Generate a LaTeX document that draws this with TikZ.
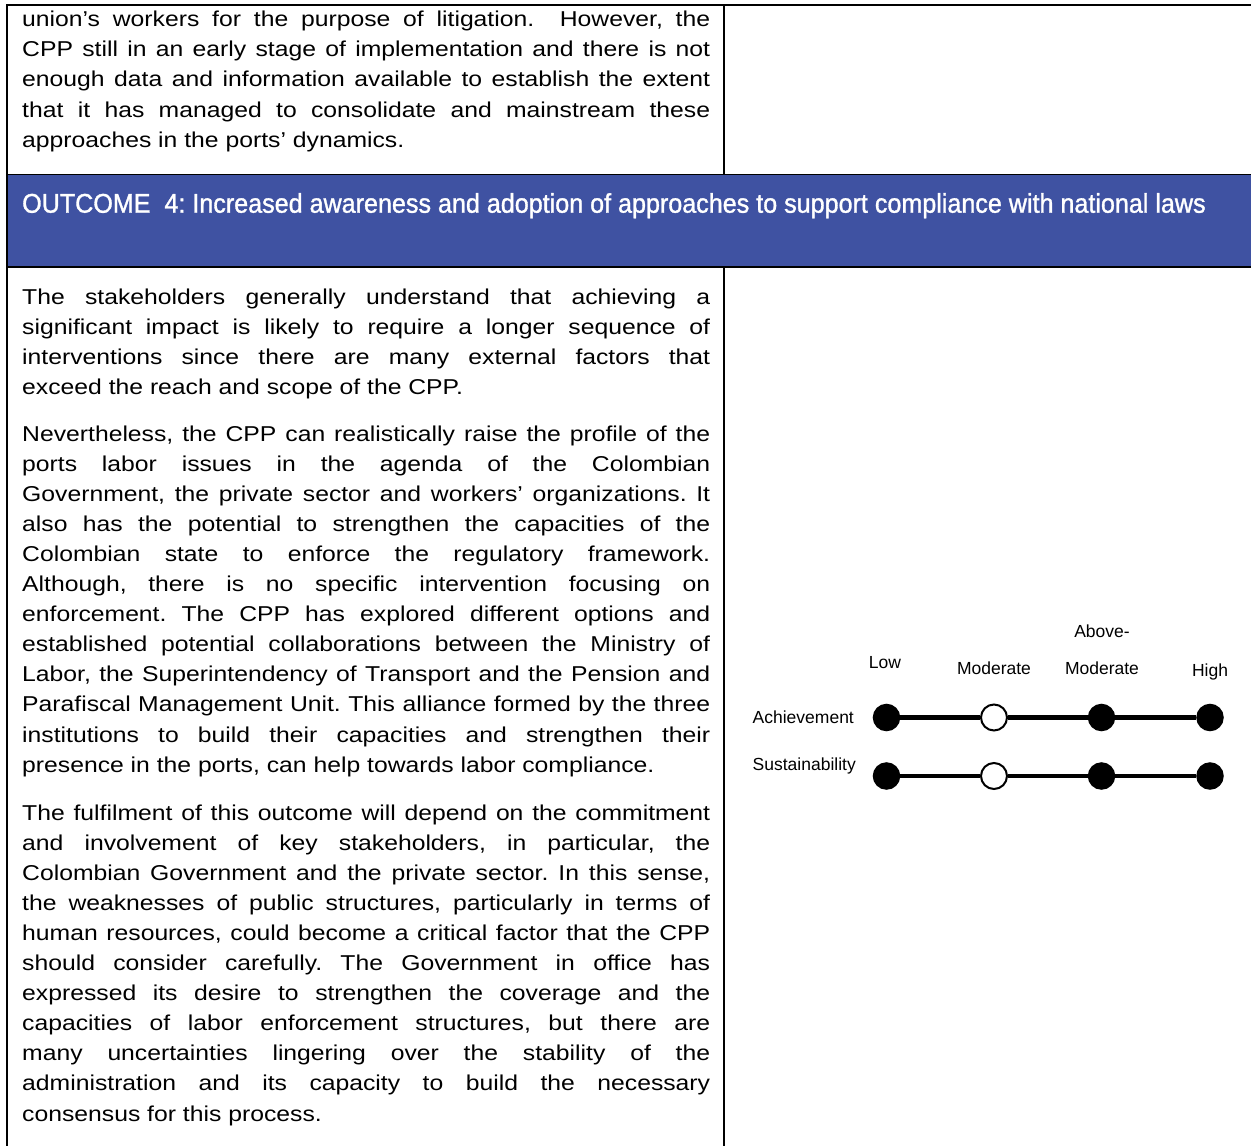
\documentclass[tikz,border=0pt]{standalone}
\usepackage{fontspec}
\setmainfont{Liberation Sans}
\newfontfamily\bodyfont[FakeStretch=1.15]{Liberation Sans}
\newfontfamily\headfont[FakeStretch=0.93,FakeBold=1.2]{Liberation Sans}
\usepackage{tikz}
\usetikzlibrary{positioning}
\definecolor{outcomeblue}{RGB}{63,82,162}
\tolerance=10000
\hyphenpenalty=10000
\frenchspacing
\tikzstyle{rule}=[line width=1.5pt]
\tikzstyle{bodytext}=[anchor=base west,inner sep=0pt,text width=688pt,align=justify,
  font=\bodyfont\fontsize{21.5}{30.1}\selectfont]
\tikzstyle{scalelabel}=[anchor=base,inner sep=0pt,font=\fontsize{17.5}{20}\selectfont]
\tikzstyle{dot}=[draw,fill=black,circle,minimum size=26pt,inner sep=0pt,line width=1.5pt]
\tikzstyle{opendot}=[dot,fill=white,line width=2pt]

\begin{document}
\begin{tikzpicture}[x=1pt,y=-1pt]
\useasboundingbox (0,0) rectangle (1251,1146);

% table frame and outcome bar
\fill[outcomeblue] (7,174.5) rectangle (1251,267);
\draw[rule] (7,1146) -- (7,5) -- (1251,5);
\draw[rule] (724,5) -- (724,174.5) (724,267) -- (724,1146);
\draw[rule] (7,174.5) -- (1251,174.5) (7,267) -- (1251,267);

\node [anchor=base west,inner sep=0pt,text=white,font=\headfont\fontsize{27}{30}\selectfont]
  (outcome) at (22,212.7) {OUTCOME\ \ 4: Increased awareness and adoption of approaches to support compliance with national laws};

% text cells
\node [bodytext] (prevcell) at (22,26.7) {union’s workers for the purpose of litigation.\ \ However, the\linebreak
CPP still in an early stage of implementation and there is not\linebreak
enough data and information available to establish the extent\linebreak
that it has managed to consolidate and mainstream these\linebreak
approaches in the ports’ dynamics.};

\node [bodytext] (para1) at (22,304.5) {The stakeholders generally understand that achieving a\linebreak
significant impact is likely to require a longer sequence of\linebreak
interventions since there are many external factors that\linebreak
exceed the reach and scope of the CPP.};

\node [bodytext] (para2) at (22,441) {Nevertheless, the CPP can realistically raise the profile of the\linebreak
ports labor issues in the agenda of the Colombian\linebreak
Government, the private sector and workers’ organizations. It\linebreak
also has the potential to strengthen the capacities of the\linebreak
Colombian state to enforce the regulatory framework.\linebreak
Although, there is no specific intervention focusing on\linebreak
enforcement. The CPP has explored different options and\linebreak
established potential collaborations between the Ministry of\linebreak
Labor, the Superintendency of Transport and the Pension and\linebreak
Parafiscal Management Unit. This alliance formed by the three\linebreak
institutions to build their capacities and strengthen their\linebreak
presence in the ports, can help towards labor compliance.};

\node [bodytext] (para3) at (22,820) {The fulfilment of this outcome will depend on the commitment\linebreak
and involvement of key stakeholders, in particular, the\linebreak
Colombian Government and the private sector. In this sense,\linebreak
the weaknesses of public structures, particularly in terms of\linebreak
human resources, could become a critical factor that the CPP\linebreak
should consider carefully. The Government in office has\linebreak
expressed its desire to strengthen the coverage and the\linebreak
capacities of labor enforcement structures, but there are\linebreak
many uncertainties lingering over the stability of the\linebreak
administration and its capacity to build the necessary\linebreak
consensus for this process.};

% rating scale
\node [scalelabel] (low) at (885,668) {Low};
\node [scalelabel] (mod) at (994,674.7) {Moderate};
\node [scalelabel] (above) at (1102,637.3) {Above-};
\node [scalelabel] (abovemod) at (1102,674.7) {Moderate};
\node [scalelabel] (high) at (1210,676.3) {High};
\node [scalelabel,anchor=base west] (achlabel) at (752.5,723.5) {Achievement};
\node [scalelabel,anchor=base west] (suslabel) at (752.5,770.5) {Sustainability};

\node [dot] (ach1) at (886.5,717.5) {};
\node [opendot] (ach2) at (994,717.5) {};
\node [dot] (ach3) at (1101.5,717.5) {};
\node [dot] (ach4) at (1210,717.5) {};
\draw [line width=4.5pt] (ach1) -- (ach2) -- (ach3) -- (ach4);

\node [dot] (sus1) at (886.5,776) {};
\node [opendot] (sus2) at (994,776) {};
\node [dot] (sus3) at (1101.5,776) {};
\node [dot] (sus4) at (1210,776) {};
\draw [line width=4.5pt] (sus1) -- (sus2) -- (sus3) -- (sus4);
\end{tikzpicture}
\end{document}
